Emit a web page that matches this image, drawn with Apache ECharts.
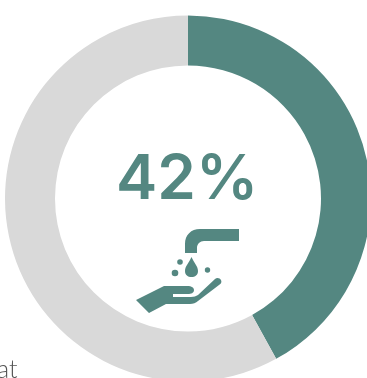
<!DOCTYPE html>
<html><head><meta charset="utf-8">
<style>html,body{margin:0;padding:0;background:#fff;overflow:hidden}#c{width:367px;height:378px}</style>
<script src="https://cdn.jsdelivr.net/npm/echarts@6/dist/echarts.min.js"></script>
</head><body><div id="c"></div>
<script>
const categories = ['Yes', 'No'];
const values = [42, 58];
const colors = ['#548781', '#d9d9d9'];
const centerLabel = '42%';
const cutLabel = 'at';
const chart = echarts.init(document.getElementById('c'), null, {renderer:'canvas'});
const teal = colors[0];
echarts.graphic.registerShape('faucet', echarts.graphic.extendPath('M239 229V241H204C200 241 197 244 197 248V253H185V244C185 235 191 229 200 229Z'));
echarts.graphic.registerShape('drop', echarts.graphic.extendPath('M191.500 257C194 263 198 266 198 271C198 275 195 277 191.500 277C188 277 185 275 185 271C185 266 189 263 191.500 257Z'));
echarts.graphic.registerShape('hand', echarts.graphic.extendPath('M136 300L164 286H187C192 286 194 288 194 290C194 293 191 294 188 294H173V297H191C194 297 196 296 198 295L215 279C217 277 220 278 221 280C222 282 221 284 219 285L198 301C196 303 193 304 190 304H166L149 313Z'));
chart.setOption({
  animation:false,
  series:[{
    type:'pie',
    center:[188,198.500],
    radius:[133,183],
    startAngle:90,
    clockwise:true,
    silent:true,
    label:{show:false},
    labelLine:{show:false},
    data:categories.map((n,i)=>({name:n,value:values[i],itemStyle:{color:colors[i]}}))
  }],
  graphic:[
    {type:'text',x:116,y:149,z:10,style:{text:centerLabel,fontFamily:'Inter',fontWeight:600,fontSize:62,fill:teal}},
    {type:'text',x:-3,y:357,z:10,style:{text:cutLabel,fontFamily:'Lato',fontWeight:300,fontSize:25,fill:'#555'}},
    {type:'faucet',z:10,style:{fill:teal}},
    {type:'drop',z:10,style:{fill:teal}},
    {type:'circle',z:10,shape:{cx:180,cy:262,r:2.8},style:{fill:teal}},
    {type:'circle',z:10,shape:{cx:175,cy:273,r:3.3},style:{fill:teal}},
    {type:'circle',z:10,shape:{cx:207.500,cy:270,r:2.700},style:{fill:teal}},
    {type:'hand',z:10,style:{fill:teal}}
  ]
});
</script></body></html>
